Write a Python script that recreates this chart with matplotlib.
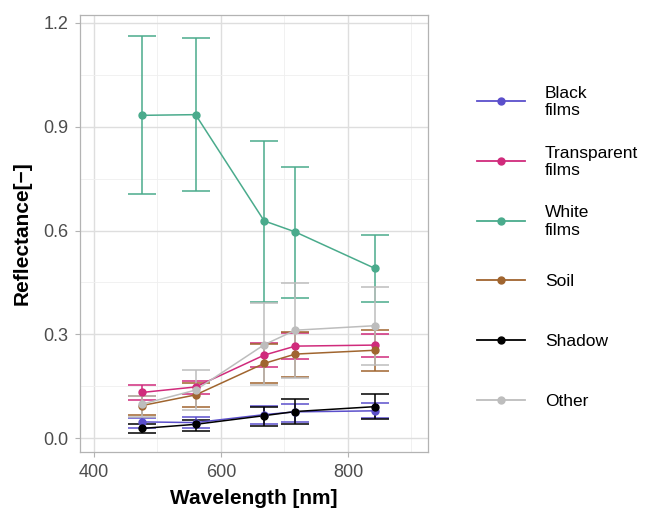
import numpy as np
import matplotlib
matplotlib.use("Agg")
import matplotlib.pyplot as plt

plt.rcParams['font.family'] = ['Liberation Sans', 'DejaVu Sans']

wavelength = [475, 560, 668, 717, 842]

classes = ['Black\nfilms', 'Transparent\nfilms', 'White\nfilms', 'Soil', 'Shadow', 'Other']
colors = ['#5b4fcb', '#d02b7c', '#4aab8c', '#a0652f', '#000000', '#bdbdbd']

# mean reflectance per class and band
mean_vals = [
    [0.047, 0.045, 0.068, 0.076, 0.079],   # black films
    [0.132, 0.148, 0.240, 0.266, 0.269],   # transparent films
    [0.933, 0.935, 0.628, 0.596, 0.491],   # white films
    [0.094, 0.125, 0.216, 0.243, 0.254],   # soil
    [0.028, 0.040, 0.065, 0.077, 0.091],   # shadow
    [0.098, 0.139, 0.270, 0.312, 0.325],   # other
]
lower_vals = [
    [0.030, 0.028, 0.040, 0.047, 0.057],
    [0.110, 0.129, 0.206, 0.230, 0.235],
    [0.705, 0.715, 0.394, 0.405, 0.393],
    [0.066, 0.091, 0.158, 0.177, 0.195],
    [0.015, 0.020, 0.036, 0.040, 0.055],
    [0.062, 0.080, 0.153, 0.173, 0.211],
]
upper_vals = [
    [0.059, 0.062, 0.094, 0.100, 0.102],
    [0.153, 0.165, 0.274, 0.305, 0.301],
    [1.163, 1.157, 0.859, 0.785, 0.587],
    [0.121, 0.158, 0.272, 0.307, 0.312],
    [0.042, 0.052, 0.090, 0.113, 0.127],
    [0.121, 0.197, 0.390, 0.447, 0.438],
]

fig = plt.figure(figsize=(6.45, 5.08), dpi=100)
ax = fig.add_axes([80/645, 56/508, 348/645, 437/508])

for name, col, m, lo, up in zip(classes, colors, mean_vals, lower_vals, upper_vals):
    m = np.array(m); lo = np.array(lo); up = np.array(up)
    ax.errorbar(wavelength, m, yerr=[m - lo, up - m], fmt='none', ecolor=col,
                elinewidth=1.1, capsize=10, capthick=1.1, zorder=2)
    ax.plot(wavelength, m, color=col, lw=1.1, zorder=3)
    ax.plot(wavelength, m, 'o', color=col, ms=5, zorder=4)

ax.set_xlim(378, 926)
ax.set_ylim(-0.040, 1.223)
ax.set_xticks([400, 600, 800])
ax.set_yticks([0.0, 0.3, 0.6, 0.9, 1.2])
ax.set_yticklabels(['0.0', '0.3', '0.6', '0.9', '1.2'])
ax.set_xticks([500, 700, 900], minor=True)
ax.set_yticks([0.15, 0.45, 0.75, 1.05], minor=True)
ax.grid(which='major', color='#dedede', lw=1.0, zorder=0)
ax.grid(which='minor', color='#efefef', lw=0.6, zorder=0)
ax.set_axisbelow(True)
for s in ax.spines.values():
    s.set_color('#b3b3b3')
    s.set_linewidth(0.9)
ax.tick_params(which='major', length=3.5, width=0.8, color='#b3b3b3',
               labelcolor='#4d4d4d', labelsize=13)
ax.tick_params(axis='x', pad=5)
ax.tick_params(axis='y', pad=5)
ax.tick_params(which='minor', length=0)
ax.set_xlabel('Wavelength [nm]', fontsize=15, fontweight='bold', labelpad=6)
ax.set_ylabel('Reflectance[\u2212]', fontsize=15, fontweight='bold', labelpad=8)

# legend drawn by hand to mimic equal-height ggplot keys
lax = fig.add_axes([0, 0, 1, 1])
lax.set_xlim(0, 645)
lax.set_ylim(508, 0)
lax.axis('off')
for i, (name, col) in enumerate(zip(classes, colors)):
    yk = 101 + i * 59.8
    lax.plot([477, 525], [yk, yk], color=col, lw=1.3)
    lax.plot([501], [yk], 'o', color=col, ms=5, zorder=3)
    lax.text(545, yk + 1, name, fontsize=12.5, va='center', ha='left',
             color='black', linespacing=1.2)

fig.savefig('out.png', dpi=100)
